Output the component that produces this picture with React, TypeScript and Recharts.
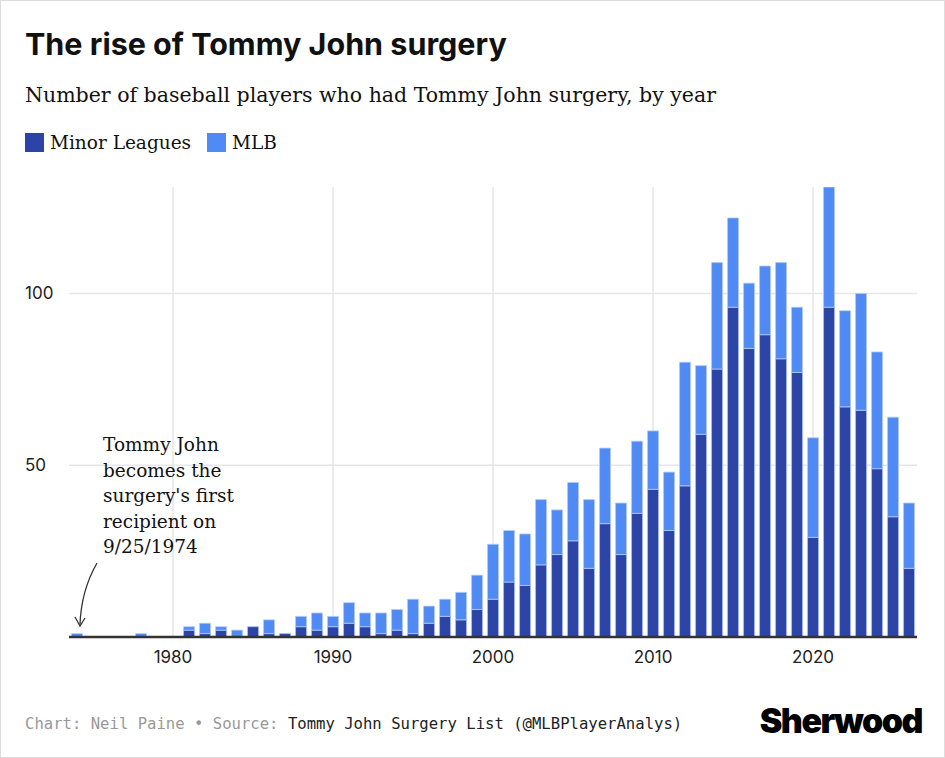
import { BarChart, Bar, XAxis, YAxis, CartesianGrid } from "recharts";

const years = Array.from({ length: 53 }, (_, i) => 1974 + i);
const minor = [
  0, 0, 0, 0, 0, 0, 0, 2, 1, 2, 0, 3, 1, 1, 3, 2, 3, 4, 3, 1, 2, 1, 4, 6, 5, 8,
  11, 16, 15, 21, 24, 28, 20, 33, 24, 36, 43, 31, 44, 59, 78, 96, 84, 88, 81, 77,
  29, 96, 67, 66, 49, 35, 20,
];
const mlb = [
  1, 0, 0, 0, 1, 0, 0, 1, 3, 1, 2, 0, 4, 0, 3, 5, 3, 6, 4, 6, 6, 10, 5, 5, 8, 10,
  16, 15, 15, 19, 13, 17, 20, 22, 15, 21, 17, 17, 36, 20, 31, 26, 19, 20, 28, 19,
  29, 39, 28, 34, 34, 29, 19,
];
const xTicks = [1980, 1990, 2000, 2010, 2020];
const yTicks = [50, 100];

const data = years.map((year, i) => ({ year, minor: minor[i], mlb: mlb[i] }));

const sans = "Inter, 'Noto Sans', sans-serif";
const serif = "'DejaVu Serif', serif";
const mono = "'DejaVu Sans Mono', monospace";

function YTick({ y, payload }: any) {
  return (
    <text x={24} y={y} dy={6} fill="#222" fontSize={17} fontFamily={sans}>
      {payload.value}
    </text>
  );
}

export default function App() {
  return (
    <div
      style={{
        position: "fixed",
        left: 0,
        top: 0,
        width: 943,
        height: 756,
        border: "1px solid #ddd",
        background: "#fff",
        overflow: "hidden",
      }}
    >
      <div style={{ position: "absolute", left: 24, top: 24, fontFamily: sans, fontWeight: 700, fontSize: 30.5, color: "#111" }}>
        The rise of Tommy John surgery
      </div>
      <div style={{ position: "absolute", left: 24, top: 82, fontFamily: serif, fontSize: 20.5, color: "#111" }}>
        Number of baseball players who had Tommy John surgery, by year
      </div>
      <div style={{ position: "absolute", left: 24, top: 131, fontFamily: serif, fontSize: 18.5, color: "#111", display: "flex", alignItems: "center" }}>
        <span style={{ width: 19, height: 19, background: "#2b44a5", marginRight: 6 }} />
        Minor Leagues
        <span style={{ width: 19, height: 19, background: "#4f8af5", margin: "0 6px 0 16px" }} />
        MLB
      </div>
      <div style={{ position: "absolute", left: 0, top: 170 }}>
        <BarChart width={945} height={500} data={data} margin={{ top: 16, right: 29, left: 67, bottom: 4 }} barCategoryGap="16%">
          <CartesianGrid stroke="#e6e6e6" strokeWidth={1.5} horizontalValues={yTicks} verticalValues={xTicks} />
          <XAxis
            dataKey="year"
            ticks={xTicks}
            interval={0}
            tickLine={false}
            axisLine={{ stroke: "#333", strokeWidth: 2.5 }}
            tick={{ fontSize: 17, fill: "#222", fontFamily: sans }}
            dy={6}
          />
          <YAxis width={1} domain={[0, 131]} allowDataOverflow ticks={yTicks} axisLine={false} tickLine={false} tick={<YTick />} />
          <Bar dataKey="minor" stackId="a" fill="#2b44a5" stroke="#a9bff0" strokeWidth={0.8} isAnimationActive={false} />
          <Bar dataKey="mlb" stackId="a" fill="#4f8af5" stroke="#b5ccf8" strokeWidth={0.8} isAnimationActive={false} />
        </BarChart>
      </div>
      <div style={{ position: "absolute", left: 102, top: 431, fontFamily: serif, fontSize: 18.5, lineHeight: "25.5px", color: "#111" }}>
        Tommy John
        <br />
        becomes the
        <br />
        surgery's first
        <br />
        recipient on
        <br />
        9/25/1974
      </div>
      <svg style={{ position: "absolute", left: 0, top: 0 }} width={945} height={758}>
        <path d="M96,562 Q80,590 79,624" fill="none" stroke="#333" strokeWidth={1.3} />
        <path d="M74,616 L79,625 L84,617" fill="none" stroke="#333" strokeWidth={1.3} />
      </svg>
      <div style={{ position: "absolute", left: 24, top: 714, fontFamily: mono, fontSize: 15.6, color: "#999" }}>
        Chart: Neil Paine • Source: <span style={{ color: "#222" }}>Tommy John Surgery List (@MLBPlayerAnalys)</span>
      </div>
      <div style={{ position: "absolute", right: 22, top: 699, fontFamily: sans, fontWeight: 900, fontSize: 34, letterSpacing: -1.5, color: "#000" }}>
        Sherwood
      </div>
    </div>
  );
}
